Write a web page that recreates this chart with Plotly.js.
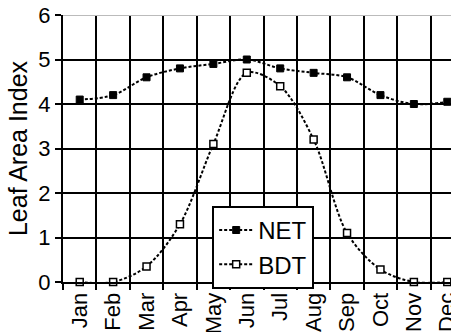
<!DOCTYPE html>
<html>
<head>
<meta charset="utf-8">
<script src="https://cdn.plot.ly/plotly-3.0.1.min.js"></script>
<style>
  html, body { margin: 0; padding: 0; overflow: hidden; background: #fff; }
  #chart { width: 490px; height: 332px; }
</style>
</head>
<body>
<div id="chart"></div>
<script>
// Monthly leaf area index for two vegetation types
const months = ['Jan', 'Feb', 'Mar', 'Apr', 'May', 'Jun', 'Jul', 'Aug', 'Sep', 'Oct', 'Nov', 'Dec'];
const netLai = [4.1, 4.2, 4.6, 4.8, 4.9, 5.0, 4.8, 4.7, 4.6, 4.2, 4.0, 4.05];
const bdtLai = [0, 0, 0.35, 1.3, 3.1, 4.7, 4.4, 3.2, 1.1, 0.28, 0, 0];
const yTicks = [0, 1, 2, 3, 4, 5, 6];

const font = { family: 'Liberation Sans, Arial, sans-serif', color: '#000' };

const traces = [
  {
    x: months, y: netLai, name: 'NET', type: 'scatter', mode: 'lines+markers',
    cliponaxis: false,
    line: { color: '#000', width: 2, dash: '3px,2px', shape: 'spline', smoothing: 1 },
    marker: { symbol: 'square', size: 7, color: '#000', line: { color: '#000', width: 1 } }
  },
  {
    x: months, y: bdtLai, name: 'BDT', type: 'scatter', mode: 'lines+markers',
    cliponaxis: false,
    line: { color: '#000', width: 2, dash: '3px,2px', shape: 'spline', smoothing: 0.9 },
    marker: { symbol: 'square', size: 7, color: '#fff', line: { color: '#000', width: 1.5 } }
  }
];

const layout = {
  width: 490, height: 332,
  margin: { l: 63, r: 26, t: 15, b: 50 },
  paper_bgcolor: '#fff', plot_bgcolor: '#fff',
  font: Object.assign({ size: 22 }, font),
  showlegend: true,
  legend: {
    x: 0.372, y: 0.285, xanchor: 'left', yanchor: 'top',
    bgcolor: '#fff', bordercolor: '#000', borderwidth: 2,
    font: Object.assign({ size: 24 }, font),
    itemwidth: 34,
    tracegroupgap: 0
  },
  xaxis: {
    type: 'category', range: [-0.5, 11.5],
    tickson: 'boundaries', ticks: 'outside', ticklen: 6, tickwidth: 2, tickcolor: '#000',
    showgrid: true, gridcolor: '#000', gridwidth: 2,
    showline: true, linecolor: '#000', linewidth: 2,
    tickangle: -90, tickfont: Object.assign({ size: 22 }, font),
    zeroline: false
  },
  yaxis: {
    range: [0, 6], tickvals: yTicks,
    ticks: 'outside', ticklen: 6, tickwidth: 2, tickcolor: '#000',
    showgrid: true, gridcolor: '#000', gridwidth: 2,
    showline: true, linecolor: '#000', linewidth: 2,
    zeroline: false,
    tickfont: Object.assign({ size: 22 }, font),
    title: { text: 'Leaf Area Index', font: Object.assign({ size: 25 }, font), standoff: 4 }
  },
  shapes: [
    // lighter top edge of the grid
    { type: 'line', xref: 'paper', yref: 'y', x0: 0, x1: 1, y0: 6, y1: 6,
      line: { color: '#bbb', width: 2 }, layer: 'above' }
  ]
};

Plotly.newPlot('chart', traces, layout, { staticPlot: true, displayModeBar: false });
</script>
</body>
</html>
